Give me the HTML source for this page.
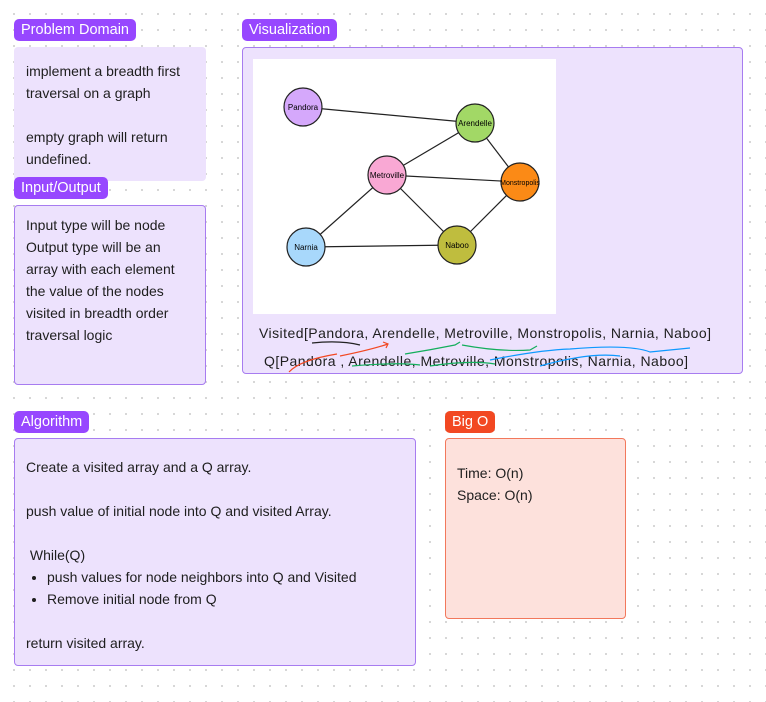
<!DOCTYPE html>
<html><head><style>
body{margin:0;width:766px;height:702px;overflow:hidden;background:#fff;background-image:radial-gradient(circle,#d4d4d4 1px,transparent 1.2px);background-size:16px 16px;background-position:6px 6px;font-family:"Liberation Sans",sans-serif;position:relative}
.l{position:absolute;color:#fff;font-size:14.5px;line-height:22px;padding:0 7px;border-radius:5px;background:#9747ff}
.b{position:absolute;background:#ede2fd;box-sizing:border-box;border-radius:4px;font-size:14px;color:#1e1e1e;line-height:22px}
.bd{border:1px solid #a77cf0}
ul{margin:0;padding-left:21px}
</style></head><body>
<div class="l" style="left:14px;top:19px">Problem Domain</div>
<div class="b" style="left:14px;top:47px;width:192px;height:134px;padding:13px 12px">implement a breadth first traversal on a graph<br><br>empty graph will return undefined.</div>
<div class="l" style="left:14px;top:177px">Input/Output</div>
<div class="b bd" style="left:14px;top:205px;width:192px;height:180px;padding:8px 11px">Input type will be node Output type will be an array with each element the value of the nodes visited in breadth order traversal logic</div>
<div class="l" style="left:242px;top:19px">Visualization</div>
<div class="b bd" style="left:242px;top:47px;width:501px;height:327px"></div>
<svg style="position:absolute;left:0;top:0" width="766" height="702">
<rect x="253" y="59" width="303" height="255" fill="#fff"/>
<g stroke="#222" stroke-width="1.2">
<line x1="303" y1="107" x2="475" y2="123"/><line x1="475" y1="123" x2="387" y2="175"/><line x1="475" y1="123" x2="520" y2="182"/>
<line x1="387" y1="175" x2="520" y2="182"/><line x1="387" y1="175" x2="306" y2="247"/><line x1="387" y1="175" x2="457" y2="245"/>
<line x1="306" y1="247" x2="457" y2="245"/><line x1="457" y1="245" x2="520" y2="182"/>
</g>
<g stroke="#222" stroke-width="1.2">
<circle cx="303" cy="107" r="19" fill="#d5a8fb"/><circle cx="475" cy="123" r="19" fill="#a2d866"/>
<circle cx="387" cy="175" r="19" fill="#f9a8d4"/><circle cx="520" cy="182" r="19" fill="#fb8a16"/>
<circle cx="306" cy="247" r="19" fill="#a8d8fb"/><circle cx="457" cy="245" r="19" fill="#bfbd3e"/>
</g>
<g font-family="Liberation Sans" font-size="8" text-anchor="middle" fill="#000">
<text x="303" y="110">Pandora</text><text x="475" y="126">Arendelle</text><text x="387" y="178">Metroville</text>
<text x="520" y="185" font-size="7">Monstropolis</text><text x="306" y="250">Narnia</text><text x="457" y="248">Naboo</text>
</g>
<text x="259" y="338" font-family="Liberation Sans" font-size="14" textLength="452" fill="#1e1e1e">Visited[Pandora, Arendelle, Metroville, Monstropolis, Narnia, Naboo]</text>
<text x="264" y="366" font-family="Liberation Sans" font-size="14" textLength="424" fill="#1e1e1e">Q[Pandora ,  Arendelle, Metroville, Monstropolis, Narnia, Naboo]</text>
<g fill="none" stroke-width="1.2">
<path d="M312 343 Q340 340 360 345" stroke="#222"/>
<path d="M289 372 Q300 360 337 354 M340 356 Q370 350 388 344 M383 342 l5 2 -2 4" stroke="#f24822"/>
<path d="M405 354 Q430 350 455 345 l5 -3 M462 345 Q500 352 530 350 l7 -4 M352 366 Q400 362 420 365 M430 366 Q470 360 495 364" stroke="#14ae5c"/>
<path d="M490 360 Q540 350 570 349 Q630 344 650 352 Q670 350 690 348 M540 366 Q590 352 620 356" stroke="#0d99ff"/>
</g>
</svg>
<div class="l" style="left:14px;top:411px">Algorithm</div>
<div class="b bd" style="left:14px;top:438px;width:402px;height:228px;padding:17px 11px">Create a visited array and a Q array.<br><br>push value of initial node into Q and visited Array.<br><br>&nbsp;While(Q)<ul><li>push values for node neighbors into Q and Visited</li><li>Remove initial node from Q</li></ul><br>return visited array.</div>
<div class="l" style="left:445px;top:411px;background:#f24822">Big O</div>
<div class="b" style="left:445px;top:438px;width:181px;height:181px;padding:23px 11px;background:#fde1dc;border:1px solid #f2785c">Time: O(n)<br>Space: O(n)</div>
</body></html>
